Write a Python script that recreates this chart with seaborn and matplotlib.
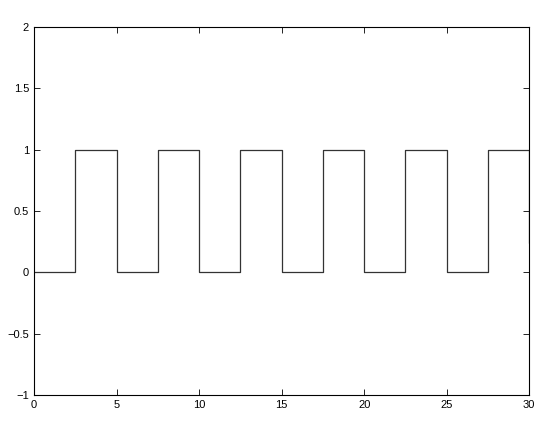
import matplotlib
matplotlib.use("Agg")
import matplotlib.pyplot as plt
import seaborn as sns
import pandas as pd

# square wave vertices
t = [0, 2.5, 2.5, 5, 5, 7.5, 7.5, 10, 10, 12.5, 12.5, 15, 15,
     17.5, 17.5, 20, 20, 22.5, 22.5, 25, 25, 27.5, 27.5, 30, 30]
y = [0, 0, 1, 1, 0, 0, 1, 1, 0, 0, 1, 1, 0,
     0, 1, 1, 0, 0, 1, 1, 0, 0, 1, 1, 0.24]

xticks = [0, 5, 10, 15, 20, 25, 30]
yticks = [-1, -0.5, 0, 0.5, 1, 1.5, 2]
ylabels = ["\u22121", "\u22120.5", "0", "0.5", "1", "1.5", "2"]

sns.set_style("ticks")
plt.rcParams["font.family"] = ["Liberation Sans", "DejaVu Sans"]

df = pd.DataFrame({"t": t, "y": y})

fig = plt.figure(figsize=(5.4, 4.32), dpi=100)
ax = fig.add_axes([0.063, 0.086, 0.917, 0.851])
sns.lineplot(data=df, x="t", y="y", sort=False, estimator=None,
             color="#333333", linewidth=0.9, ax=ax)

ax.set_xlim(0, 30)
ax.set_ylim(-1, 2)
ax.set_xticks(xticks)
ax.set_yticks(yticks)
ax.set_yticklabels(ylabels)
ax.set_xlabel("")
ax.set_ylabel("")
for s in ax.spines.values():
    s.set_visible(True)
    s.set_linewidth(0.8)
    s.set_color("black")
ax.tick_params(direction="in", length=4, width=0.6, labelsize=8,
               top=True, right=True, colors="black")
ax.tick_params(axis="x", pad=4)

fig.savefig("out.png", dpi=100)
